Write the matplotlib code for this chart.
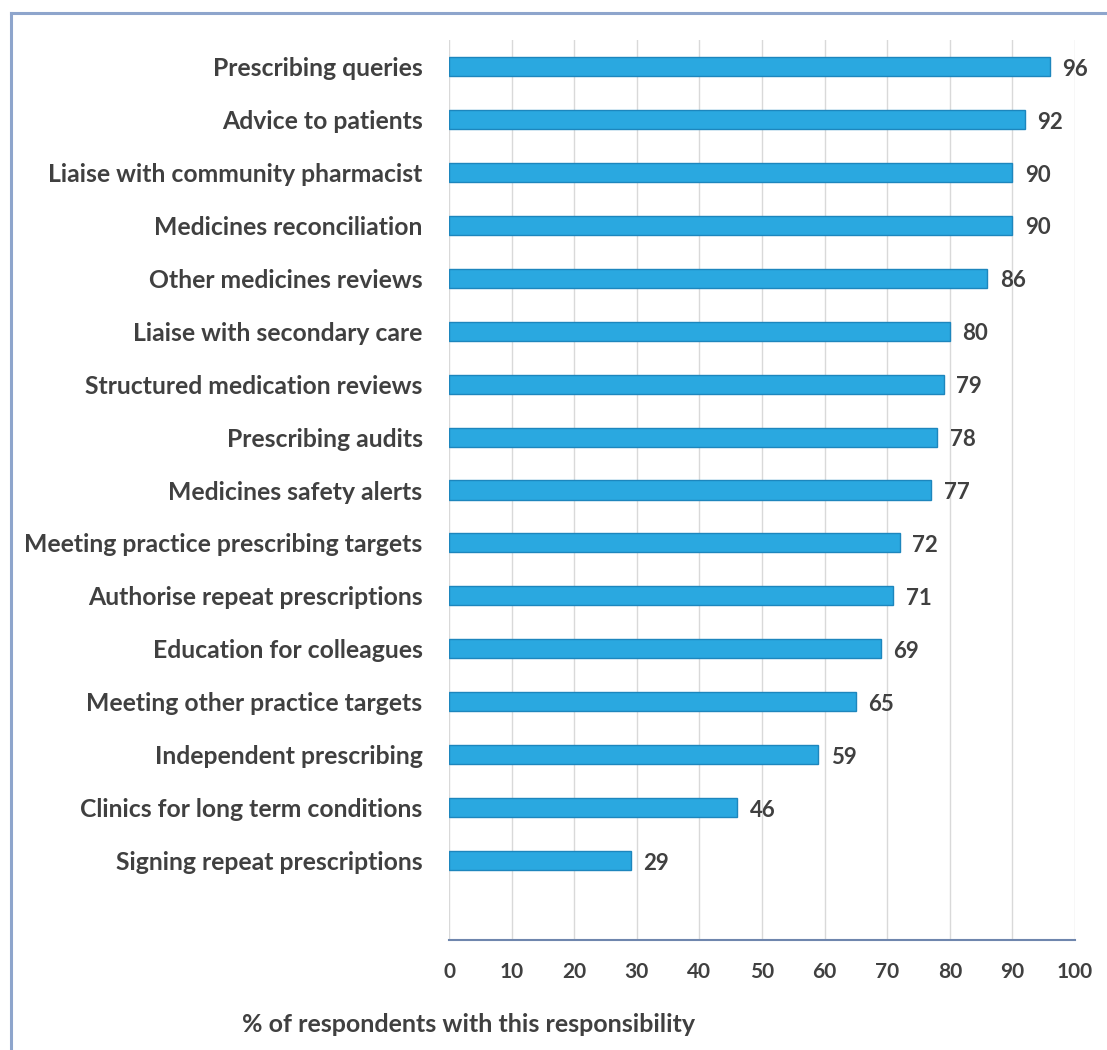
import matplotlib
matplotlib.use("Agg")
import matplotlib.pyplot as plt
import numpy as np
from matplotlib.lines import Line2D

categories = [
    "Prescribing queries",
    "Advice to patients",
    "Liaise with community pharmacist",
    "Medicines reconciliation",
    "Other medicines reviews",
    "Liaise with secondary care",
    "Structured medication reviews",
    "Prescribing audits",
    "Medicines safety alerts",
    "Meeting practice prescribing targets",
    "Authorise repeat prescriptions",
    "Education for colleagues",
    "Meeting other practice targets",
    "Independent prescribing",
    "Clinics for long term conditions",
    "Signing repeat prescriptions",
]
values = [96, 92, 90, 90, 86, 80, 79, 78, 77, 72, 71, 69, 65, 59, 46, 29]
xticks = [0, 10, 20, 30, 40, 50, 60, 70, 80, 90, 100]
xlabel = "% of respondents with this responsibility"

plt.rcParams['font.family'] = ['Lato', 'DejaVu Sans']
text_col = '#404040'

W, H = 1107, 1050
fig = plt.figure(figsize=(W/100, H/100), dpi=100)
ax = fig.add_axes([449/W, 1-940/H, (1075-449)/W, (940-40)/H])

y = np.arange(len(categories))
ax.barh(y, values, height=0.36, color='#2AA8E0', edgecolor='#1D86BD', linewidth=1.0, zorder=3)
for yi, v in zip(y, values):
    ax.text(v + 2.0, yi + 0.05, str(v), va='center', ha='left', fontsize=16,
            fontweight='bold', color=text_col)

ax.set_ylim(len(categories) + 0.5, -0.5)
ax.set_xlim(0, 100)
ax.set_yticks(y)
ax.set_yticklabels(categories, fontsize=17.8, fontweight='bold', color=text_col)
ax.set_xticks(xticks)
ax.set_xticklabels([str(t) for t in xticks], fontsize=15, fontweight='bold', color=text_col)
ax.tick_params(axis='y', length=0, pad=19)
ax.tick_params(axis='x', length=0, pad=16)
ax.grid(axis='x', color='#D9D9D9', linewidth=1.0, zorder=0)
for s in ['top', 'right', 'left']:
    ax.spines[s].set_visible(False)
ax.spines['bottom'].set_color('#6F86AD')
ax.spines['bottom'].set_linewidth(1.5)
ax.spines['bottom'].set_zorder(4)

fig.text(242/W, 1-1024/H, xlabel, ha='left', va='center', fontsize=18,
         fontweight='bold', color=text_col)

# outer frame (left and top edges)
fig.add_artist(Line2D([11/W, 11/W], [0, 1-13/H], transform=fig.transFigure,
                      color='#8EA5CC', linewidth=2.2))
fig.add_artist(Line2D([11/W, 1], [1-13/H, 1-13/H], transform=fig.transFigure,
                      color='#8EA5CC', linewidth=2.2))

fig.savefig("out.png", dpi=100)
